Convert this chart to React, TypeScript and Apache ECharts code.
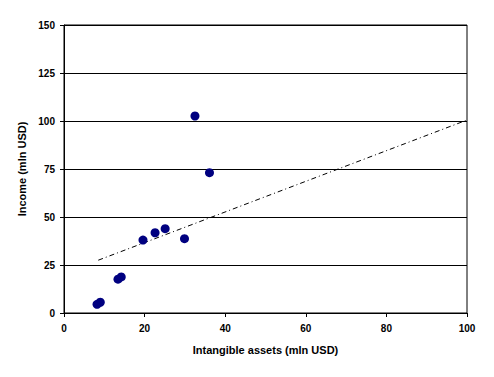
import React, { useEffect, useRef } from "react";
import * as echarts from "echarts";

const assets = [8.2, 9.0, 13.4, 14.2, 19.6, 22.6, 25.1, 29.9, 32.5, 36.1];
const income = [4.5, 5.6, 17.6, 18.8, 38.0, 41.8, 43.9, 38.7, 102.6, 73.1];
const trendX = [8.5, 100];
const trendY = [27.5, 100.5];
const xTitle = "Intangible assets (mln USD)";
const yTitle = "Income (mln USD)";

export default function App() {
  const ref = useRef<HTMLDivElement>(null);
  useEffect(() => {
    if (!ref.current) return;
    const chart = echarts.init(ref.current, null, { renderer: "svg" });
    const font = { fontFamily: "Liberation Sans, Arial, sans-serif", fontWeight: "bold" as const, fontSize: 10, color: "#000" };
    const titleFont = { ...font, fontSize: 11 };
    chart.setOption({
      animation: false,
      backgroundColor: "#fff",
      grid: { left: 64, top: 25, width: 403, height: 288, show: true, borderColor: "#000", borderWidth: 1, backgroundColor: "transparent" },
      xAxis: {
        type: "value",
        min: 0,
        max: 100,
        interval: 20,
        name: xTitle,
        nameLocation: "middle",
        nameGap: 31,
        nameTextStyle: titleFont,
        axisLine: { show: true, lineStyle: { color: "#000", width: 1 } },
        axisTick: { show: true, inside: false, length: 4, lineStyle: { color: "#000" } },
        axisLabel: { ...font, margin: 10 },
        splitLine: { show: false },
      },
      yAxis: {
        type: "value",
        min: 0,
        max: 150,
        interval: 25,
        name: yTitle,
        nameLocation: "middle",
        nameGap: 29,
        nameTextStyle: titleFont,
        axisLine: { show: true, lineStyle: { color: "#000", width: 1 } },
        axisTick: { show: true, inside: false, length: 4, lineStyle: { color: "#000" } },
        axisLabel: { ...font, margin: 9 },
        splitLine: { show: true, lineStyle: { color: "#000", width: 1 } },
      },
      series: [
        {
          type: "line",
          data: trendX.map((x, i) => [x, trendY[i]]),
          symbol: "none",
          lineStyle: { color: "#000", width: 1, type: [5, 3, 1, 3] },
          z: 2,
        },
        {
          type: "scatter",
          data: assets.map((x, i) => [x, income[i]]),
          symbol: "circle",
          symbolSize: 9,
          itemStyle: { color: "#000080", opacity: 1 },
          z: 3,
        },
      ],
    });
    return () => chart.dispose();
  }, []);
  return <div ref={ref} style={{ position: "fixed", left: 0, top: 0, width: 494, height: 377 }} />;
}
